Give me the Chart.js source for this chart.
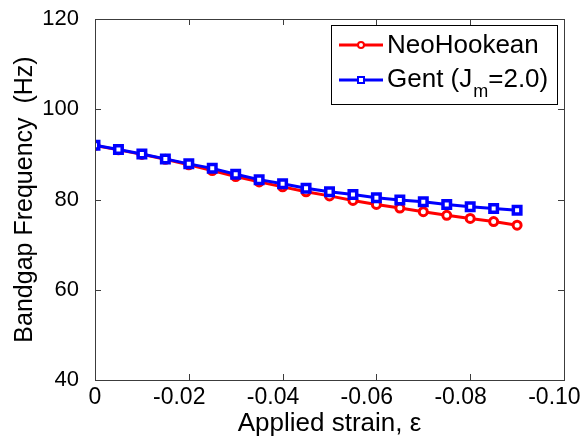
<!DOCTYPE html>
<html>
<head>
<meta charset="utf-8">
<script src="https://cdn.jsdelivr.net/npm/chart.js@4.4.1/dist/chart.umd.min.js"></script>
<style>
  html, body { margin: 0; padding: 0; background: #fff; }
</style>
</head>
<body>
<canvas id="myChart" width="582" height="439"></canvas>
<script>
// data
const strain = [0, -0.005, -0.01, -0.015, -0.02, -0.025, -0.03, -0.035, -0.04, -0.045,
  -0.05, -0.055, -0.06, -0.065, -0.07, -0.075, -0.08, -0.085, -0.09];
const neoHookean = [92.0, 91.0, 90.0, 88.9, 87.7, 86.4, 85.1, 83.9, 82.8, 81.7,
  80.8, 79.8, 78.9, 78.1, 77.3, 76.5, 75.8, 75.1, 74.3];
const gent = [92.0, 91.1, 90.1, 89.0, 87.9, 86.9, 85.6, 84.4, 83.5, 82.5,
  81.7, 81.1, 80.4, 79.9, 79.5, 78.9, 78.4, 78.0, 77.6];
const xTickLabels = ["0", "-0.02", "-0.04", "-0.06", "-0.08", "-0.10"];
const yTickLabels = ["40", "60", "80", "100", "120"];

const FONT = "'Liberation Sans', Arial, Helvetica, sans-serif";

const toPoints = (ys) => strain.map((s, i) => ({ x: s, y: ys[i] }));

// MATLAB style box with inward ticks + legend
const boxPlugin = {
  id: "boxPlugin",
  afterDraw(chart) {
    const { ctx, chartArea: a, scales: { x, y } } = chart;
    ctx.save();
    ctx.strokeStyle = "#3c3c3c";
    ctx.lineWidth = 1;
    ctx.strokeRect(Math.round(a.left) + 0.5, Math.round(a.top) + 0.5,
      Math.round(a.right - a.left), Math.round(a.bottom - a.top));
    ctx.beginPath();
    x.ticks.forEach((t) => {
      const px = Math.round(x.getPixelForValue(t.value)) + 0.5;
      ctx.moveTo(px, a.bottom); ctx.lineTo(px, a.bottom - 6);
      ctx.moveTo(px, a.top); ctx.lineTo(px, a.top + 6);
    });
    y.ticks.forEach((t) => {
      const py = Math.round(y.getPixelForValue(t.value)) + 0.5;
      ctx.moveTo(a.left, py); ctx.lineTo(a.left + 6, py);
      ctx.moveTo(a.right, py); ctx.lineTo(a.right - 6, py);
    });
    ctx.stroke();

    // legend
    const lx = 331, ly = 25, lw = 226, lh = 79;
    ctx.fillStyle = "#fff";
    ctx.fillRect(lx, ly, lw, lh);
    ctx.strokeStyle = "#000";
    ctx.strokeRect(lx + 0.5, ly + 0.5, lw, lh);

    const rows = [
      { ds: chart.data.datasets[0], yc: 45 },
      { ds: chart.data.datasets[1], yc: 80 },
    ];
    rows.forEach((r) => {
      ctx.strokeStyle = r.ds.borderColor;
      ctx.lineWidth = 3;
      ctx.beginPath();
      ctx.moveTo(339, r.yc); ctx.lineTo(383, r.yc);
      ctx.stroke();
      ctx.lineWidth = 2;
      ctx.fillStyle = "#fff";
      if (r.ds.pointStyle === "circle") {
        ctx.beginPath();
        ctx.arc(361, r.yc, 3, 0, Math.PI * 2);
        ctx.fill(); ctx.stroke();
      } else {
        ctx.fillRect(358, r.yc - 3, 6, 6);
        ctx.strokeRect(358, r.yc - 3, 6, 6);
      }
    });

    ctx.fillStyle = "#000";
    ctx.textBaseline = "middle";
    ctx.font = "26px " + FONT;
    ctx.fillText("NeoHookean", 387, 46);
    let tx = 387;
    ctx.fillText("Gent (J", tx, 80);
    tx += ctx.measureText("Gent (J").width;
    ctx.font = "18px " + FONT;
    ctx.fillText("m", tx + 1, 92);
    tx += ctx.measureText("m").width + 1;
    ctx.font = "26px " + FONT;
    ctx.fillText("=2.0)", tx, 80);
    ctx.restore();
  },
};

const config = {
  type: "line",
  data: {
    datasets: [
      {
        label: "NeoHookean",
        data: toPoints(neoHookean),
        borderColor: "#ff0000",
        backgroundColor: "#ffffff",
        borderWidth: 3,
        pointStyle: "circle",
        pointRadius: 4,
        pointBorderWidth: 3,
        pointBackgroundColor: "#ffffff",
        order: 2,
      },
      {
        label: "Gent (Jm=2.0)",
        data: toPoints(gent),
        borderColor: "#0000ff",
        backgroundColor: "#ffffff",
        borderWidth: 3,
        pointStyle: "rect",
        pointRadius: 5.3,
        pointBorderWidth: 3.5,
        pointBackgroundColor: "#ffffff",
        order: 1,
      },
    ],
  },
  options: {
    responsive: false,
    animation: false,
    layout: { padding: { left: 0, right: 18, top: 19, bottom: 0 } },
    plugins: { legend: { display: false }, tooltip: { enabled: false } },
    scales: {
      x: {
        type: "linear",
        reverse: true,
        min: -0.1,
        max: 0,
        grid: { display: false, drawTicks: false },
        border: { display: false },
        ticks: {
          stepSize: 0.02,
          maxRotation: 0,
          padding: 4,
          color: "#000",
          font: { family: FONT, size: 23 },
          // MATLAB sets its negative labels a little left of the tick
          callback: (v) => {
            const i = Math.round(-v / 0.02);
            return i === 0 ? xTickLabels[i] : xTickLabels[i] + "   ";
          },
        },
        title: {
          display: true,
          text: "Applied strain, ε",
          color: "#000",
          font: { family: FONT, size: 26 },
          padding: { top: 0, bottom: 0 },
        },
        afterFit: (s) => { s.height = 59; s.paddingLeft = 0; s.paddingRight = 0; },
      },
      y: {
        min: 40,
        max: 120,
        grid: { display: false },
        border: { display: false },
        ticks: {
          stepSize: 20,
          padding: 8,
          color: "#000",
          font: { family: FONT, size: 22 },
          callback: (v) => yTickLabels[Math.round((v - 40) / 20)],
        },
        title: {
          display: true,
          text: "Bandgap Frequency  (Hz)",
          color: "#000",
          font: { family: FONT, size: 25 },
          padding: { top: 10, bottom: 0 },
        },
        afterFit: (s) => { s.width = 95; s.paddingTop = 0; s.paddingBottom = 0; },
      },
    },
  },
  plugins: [boxPlugin],
};

let myChart = new Chart(document.getElementById("myChart"), config);
</script>
</body>
</html>
